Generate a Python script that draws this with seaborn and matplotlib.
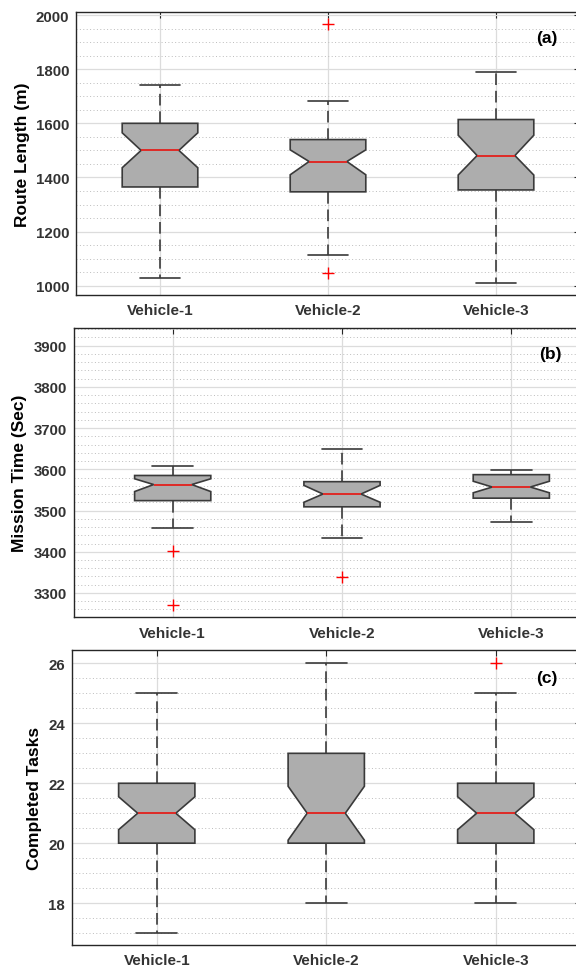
import pandas as pd
import matplotlib.pyplot as plt
import seaborn as sns
from matplotlib.ticker import MultipleLocator

vehicles = ['Vehicle-1', 'Vehicle-2', 'Vehicle-3']

# (a) route length (m)
route_whislo = [1028, 1112, 1010]
route_q1 = [1365, 1347, 1354]
route_med = [1500, 1459, 1481]
route_q3 = [1600, 1540, 1614]
route_whishi = [1742, 1683, 1788]
route_notch_lo = [1436, 1410, 1409]
route_notch_hi = [1565, 1502, 1556]
route_outliers = [[], [1046, 1965], []]

# (b) mission time (sec)
time_whislo = [3457, 3434, 3473]
time_q1 = [3524, 3509, 3530]
time_med = [3563, 3540, 3557]
time_q3 = [3585, 3570, 3587]
time_whishi = [3609, 3649, 3599]
time_notch_lo = [3546, 3520, 3543]
time_notch_hi = [3577, 3561, 3571]
time_outliers = [[3403, 3271], [3338], []]

# (c) completed tasks
tasks_whislo = [17, 18, 18]
tasks_q1 = [20, 20, 20]
tasks_med = [21, 21, 21]
tasks_q3 = [22, 23, 22]
tasks_whishi = [25, 26, 25]
tasks_notch_lo = [20.45, 20.1, 20.45]
tasks_notch_hi = [21.55, 21.9, 21.55]
tasks_outliers = [[], [], [26]]

W, H = 576, 970
edge = '#3a3a3a'
dark = '#262626'


def box_stats(whislo, q1, med, q3, whishi, nlo, nhi, fliers):
    return [dict(whislo=a, q1=b, med=c, q3=d, whishi=e, cilo=f, cihi=g, fliers=h)
            for a, b, c, d, e, f, g, h in zip(whislo, q1, med, q3, whishi, nlo, nhi, fliers)]


def draw_panel(fig, left, top, bottom, step, x0, stats, ylim, major, minor,
               ylabel, label_px, tag, tag_xy):
    xlim = (x0, 2.5)
    width = (xlim[1] - xlim[0]) * step
    ax = fig.add_axes([left / W, 1 - bottom / H, width / W, (bottom - top) / H])
    df = pd.DataFrame({'vehicle': vehicles, 'value': [s['med'] for s in stats]})
    sns.boxplot(data=df, x='vehicle', y='value', ax=ax, notch=True, bxpstats=stats,
                width=0.45, color='#adadad', linecolor=edge, linewidth=1.2,
                capwidths=0.24,
                medianprops=dict(color='#e3201b', linewidth=1.3),
                whiskerprops=dict(color=edge, linestyle=(0, (7, 3.5))),
                capprops=dict(color=edge),
                flierprops=dict(marker='+', markeredgecolor='red',
                                markerfacecolor='red', markersize=8,
                                markeredgewidth=1.0))
    ax.set_xlim(*xlim)
    ax.set_ylim(*ylim)
    ax.yaxis.set_major_locator(MultipleLocator(major))
    ax.yaxis.set_minor_locator(MultipleLocator(minor))
    ax.grid(True, which='major', color='#dcdcdc', linewidth=0.9)
    ax.yaxis.grid(True, which='minor', color='#bcbcbc', linewidth=0.7,
                  linestyle=(0, (1, 2.5)))
    ax.set_axisbelow(True)
    ax.tick_params(which='major', direction='in', length=4, top=True, right=True,
                   color=dark, labelcolor='#333333', labelsize=10.8)
    ax.tick_params(axis='x', pad=6, labelsize=11)
    ax.tick_params(axis='y', pad=5)
    ax.tick_params(which='minor', length=0)
    for s in ax.spines.values():
        s.set_visible(True)
        s.set_color(dark)
        s.set_linewidth(1.0)
    ax.set_xlabel('')
    ax.set_ylabel(ylabel, fontsize=12.5, fontweight='bold', color='black')
    ax.yaxis.label.set_va('center')
    ax.yaxis.set_label_coords((label_px - left) / width, 0.5)
    fig.text(tag_xy[0] / W, 1 - tag_xy[1] / H, tag, fontsize=12.5,
             fontweight='bold', color='black', ha='center', va='center')
    return ax


def main():
    sns.set_style('white')
    plt.rcParams['font.family'] = ['Liberation Sans', 'DejaVu Sans']
    plt.rcParams['font.weight'] = 'bold'

    fig = plt.figure(figsize=(W / 100, H / 100), dpi=100)

    draw_panel(fig, 76, 13.3, 296, 168, -0.5,
               box_stats(route_whislo, route_q1, route_med, route_q3, route_whishi,
                         route_notch_lo, route_notch_hi, route_outliers),
               (966, 2010), 200, 50, 'Route Length (m)', 23, '(a)', (547, 39))
    draw_panel(fig, 74, 329.3, 618.3, 169.3, -0.583,
               box_stats(time_whislo, time_q1, time_med, time_q3, time_whishi,
                         time_notch_lo, time_notch_hi, time_outliers),
               (3241, 3942), 100, 20, 'Mission Time (Sec)', 20, '(b)', (550, 355))
    draw_panel(fig, 72, 650.7, 946, 169.5, -0.5,
               box_stats(tasks_whislo, tasks_q1, tasks_med, tasks_q3, tasks_whishi,
                         tasks_notch_lo, tasks_notch_hi, tasks_outliers),
               (16.6, 26.46), 2, 0.5, 'Completed Tasks', 35, '(c)', (547, 679))

    fig.savefig('out.png', dpi=100)


if __name__ == "__main__":
    main()
